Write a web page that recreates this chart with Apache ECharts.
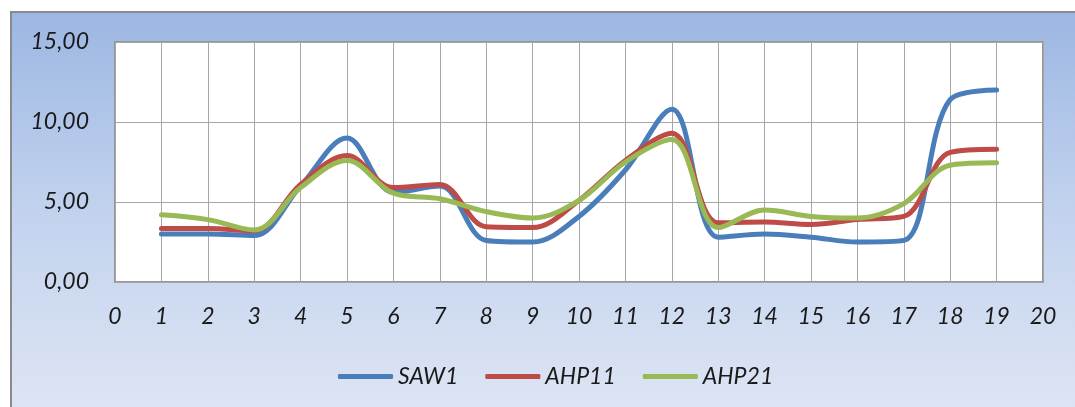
<!DOCTYPE html>
<html>
<head>
<meta charset="utf-8">
<script src="https://cdn.jsdelivr.net/npm/echarts@6/dist/echarts.min.js"></script>
<style>
  html, body { margin: 0; padding: 0; background: #fff; }
  #chart { width: 1075px; height: 407px; }
</style>
</head>
<body>
<div id="chart"></div>
<script>
// data
var xs = [1, 2, 3, 4, 5, 6, 7, 8, 9, 10, 11, 12, 13, 14, 15, 16, 17, 18, 19];
var saw1 = [3.0, 3.0, 2.9, 6.0, 9.0, 5.6, 6.0, 2.6, 2.5, 4.1, 7.0, 10.8, 2.8, 3.0, 2.8, 2.5, 2.6, 11.4, 12.0];
var ahp11 = [3.35, 3.35, 3.2, 6.1, 7.9, 5.9, 6.1, 3.45, 3.4, 5.1, 7.6, 9.3, 3.7, 3.75, 3.6, 3.9, 4.1, 8.1, 8.3];
var ahp21 = [4.2, 3.9, 3.25, 5.9, 7.6, 5.55, 5.2, 4.4, 4.0, 5.1, 7.5, 8.9, 3.4, 4.5, 4.1, 4.0, 4.9, 7.3, 7.45];
var seriesNames = ['SAW1', 'AHP11', 'AHP21'];
var seriesColors = ['#4a7ebb', '#be4b48', '#98b954'];

function pairs(vals) {
  return xs.map(function (x, i) { return [x, vals[i]]; });
}

var labelFont = {
  fontFamily: 'Lato',
  fontStyle: 'italic',
  fontSize: 23,
  color: '#1a1a1a'
};

var chart = echarts.init(document.getElementById('chart'));
chart.setOption({
  animation: false,
  graphic: [{
    type: 'rect',
    z: -10,
    shape: { x: 11, y: 12, width: 1080, height: 410 },
    style: {
      fill: new echarts.graphic.LinearGradient(0, 0, 0, 1, [
        { offset: 0, color: '#9cb7e3' },
        { offset: 0.5, color: '#c3d3ee' },
        { offset: 1, color: '#dfe6f4' }
      ]),
      stroke: '#8a8a8a',
      lineWidth: 2
    }
  }],
  grid: {
    left: 115,
    top: 42,
    right: 32,
    bottom: 125,
    show: true,
    backgroundColor: '#fff',
    borderColor: '#959595',
    borderWidth: 2
  },
  legend: {
    data: seriesNames,
    left: 333,
    top: 360,
    icon: 'roundRect',
    itemWidth: 55,
    itemHeight: 5,
    itemGap: 27,
    textStyle: labelFont
  },
  xAxis: {
    type: 'value',
    min: 0,
    max: 20,
    interval: 1,
    axisLine: { show: false },
    axisTick: { show: false },
    splitLine: { show: true, lineStyle: { color: '#a6a6a6', width: 1 } },
    axisLabel: Object.assign({ margin: 23 }, labelFont)
  },
  yAxis: {
    type: 'value',
    min: 0,
    max: 15,
    interval: 5,
    axisLine: { show: false },
    axisTick: { show: false },
    splitLine: { show: true, lineStyle: { color: '#a6a6a6', width: 1 } },
    axisLabel: Object.assign({
      margin: 26,
      formatter: function (v) { return v.toFixed(2).replace('.', ','); }
    }, labelFont)
  },
  series: [
    { name: seriesNames[0], data: pairs(saw1) },
    { name: seriesNames[1], data: pairs(ahp11) },
    { name: seriesNames[2], data: pairs(ahp21) }
  ].map(function (s, i) {
    return {
      name: s.name,
      type: 'line',
      data: s.data,
      smooth: 0.35,
      showSymbol: false,
      symbol: 'none',
      color: seriesColors[i],
      lineStyle: { width: 5, color: seriesColors[i], cap: 'round' }
    };
  })
});
</script>
</body>
</html>
